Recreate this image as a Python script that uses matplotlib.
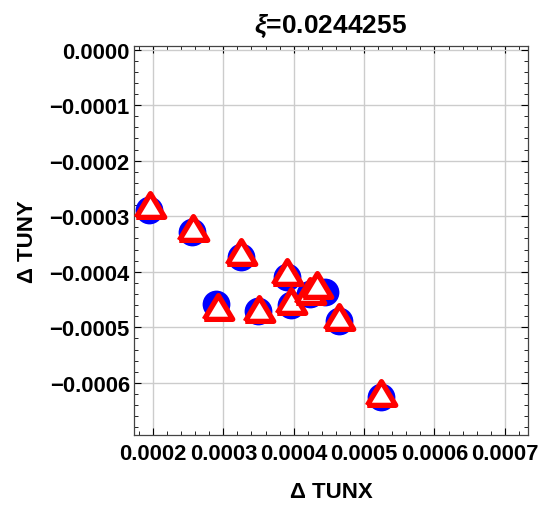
import matplotlib as mpl
mpl.use('agg')
import numpy as np
import matplotlib.pyplot as plt
from matplotlib.markers import MarkerStyle
from matplotlib.ticker import MultipleLocator, FuncFormatter

plt.rcParams['font.family'] = ['Liberation Sans', 'DejaVu Sans']
plt.rcParams['font.weight'] = 'bold'
plt.rcParams['mathtext.fontset'] = 'custom'
plt.rcParams['mathtext.it'] = 'Liberation Sans:bold:italic'
plt.rcParams['mathtext.rm'] = 'Liberation Sans:bold'

# blue circles
circ_x = [0.000195, 0.0002555, 0.000325, 0.000390, 0.0002896, 0.0003498, 0.000396, 0.0004233, 0.0004447, 0.0004646, 0.000524]
circ_y = [-0.000288, -0.000329, -0.000374, -0.000409, -0.000458, -0.000471, -0.000460, -0.000440, -0.000437, -0.000488, -0.000626]
# red triangles
tri_x = [0.000196, 0.0002565, 0.0003256, 0.000390, 0.000292, 0.000351, 0.000396, 0.0004233, 0.000433, 0.0004646, 0.000524]
tri_y = [-0.000280, -0.000321, -0.000365, -0.000401, -0.000463, -0.000467, -0.000453, -0.000434, -0.000423, -0.000482, -0.000618]

def fmt(v, pos):
    if abs(v) < 1e-12:
        return '0.0000'
    return ('%.4f' % v).replace('-', '\u2212')

fig = plt.figure(figsize=(5.4, 5.1), dpi=100)
ax = fig.add_axes([0.248, 0.145, 0.73, 0.763])

ax.set_xlim(0.000173, 0.000733)
ax.set_ylim(-0.000694, 0.0000065)

ax.plot(circ_x, circ_y, 'o', color='#0000ff', markersize=20, markeredgewidth=0, zorder=3)
tri = MarkerStyle([(-1.2, -1), (1.2, -1), (0, 1), (-1.2, -1)], joinstyle='miter')
ax.plot(tri_x, tri_y, linestyle='none', marker=tri, markersize=20.5, markerfacecolor='white',
        markeredgecolor='#ff0000', markeredgewidth=3.8, zorder=4)

ax.xaxis.set_major_locator(MultipleLocator(0.0001))
ax.xaxis.set_minor_locator(MultipleLocator(0.00002))
ax.yaxis.set_major_locator(MultipleLocator(0.0001))
ax.yaxis.set_minor_locator(MultipleLocator(0.00002))
ax.xaxis.set_major_formatter(FuncFormatter(fmt))
ax.yaxis.set_major_formatter(FuncFormatter(fmt))
ax.tick_params(which='both', direction='in', top=True, right=True, labelsize=15.8)
ax.tick_params(which='major', length=5, width=0.8)
ax.tick_params(which='minor', length=3, width=0.6)
ax.tick_params(axis='x', pad=6)
ax.tick_params(axis='y', pad=3)
for lbl in ax.get_xticklabels() + ax.get_yticklabels():
    lbl.set_fontweight('bold')
for s in ax.spines.values():
    s.set_color('#444444')
    s.set_linewidth(0.9)

ax.grid(True, which='major', color='#cccccc', linewidth=1.0)
ax.set_axisbelow(True)

ax.set_title(r'$\xi$=0.0244255', fontsize=19, fontweight='bold', pad=10)
ax.set_xlabel('Δ TUNX', fontsize=16, fontweight='bold', labelpad=12)
ax.set_ylabel('Δ TUNY', fontsize=16, fontweight='bold', labelpad=8)

plt.savefig('out.png', dpi=100)
